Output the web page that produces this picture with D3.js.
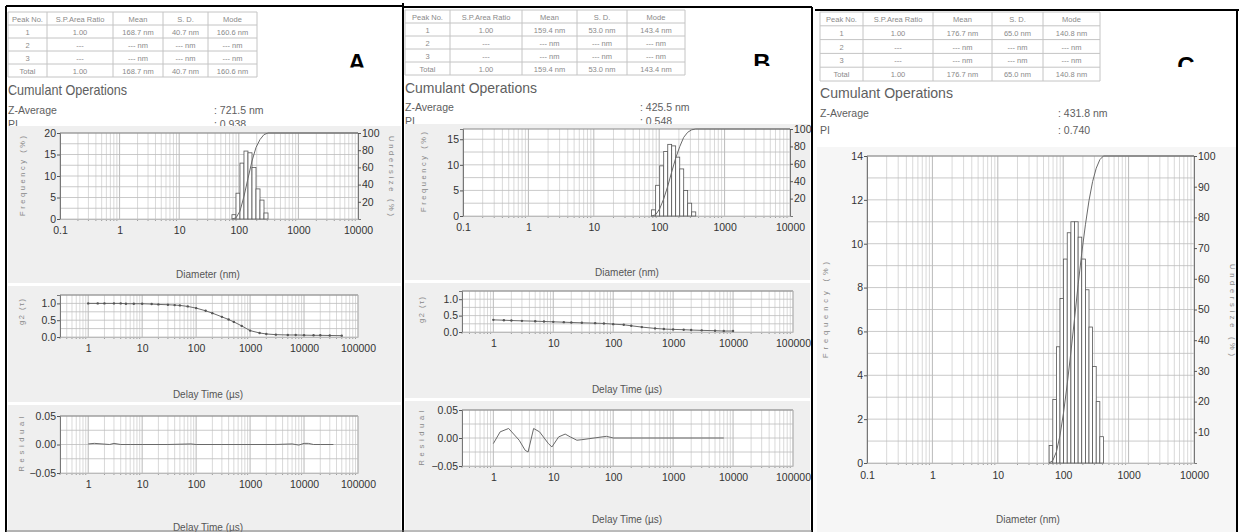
<!DOCTYPE html>
<html><head><meta charset="utf-8">
<script src="https://cdn.jsdelivr.net/npm/d3@7"></script>
<style>
body{margin:0;background:#fff;}
svg{display:block;font-family:"Liberation Sans",Arial,sans-serif;}
</style></head><body>
<svg id="fig" width="1239" height="532"></svg>
<script>
// ---------- report data ----------
const tableHeader = ["Peak No.", "S.P.Area Ratio", "Mean", "S. D.", "Mode"];
const peakRowsA = [["1","1.00","168.7 nm","40.7 nm","160.6 nm"],["2","---","--- nm","--- nm","--- nm"],["3","---","--- nm","--- nm","--- nm"],["Total","1.00","168.7 nm","40.7 nm","160.6 nm"]];
const peakRowsB = [["1","1.00","159.4 nm","53.0 nm","143.4 nm"],["2","---","--- nm","--- nm","--- nm"],["3","---","--- nm","--- nm","--- nm"],["Total","1.00","159.4 nm","53.0 nm","143.4 nm"]];
const peakRowsC = [["1","1.00","176.7 nm","65.0 nm","140.8 nm"],["2","---","--- nm","--- nm","--- nm"],["3","---","--- nm","--- nm","--- nm"],["Total","1.00","176.7 nm","65.0 nm","140.8 nm"]];
const sampleLabels = ["A", "B", "C"];
const zAverage = ["721.5 nm", "425.5 nm", "431.8 nm"];
const polyIndex = ["0.938", "0.548", "0.740"];

// size distributions (diameter in nm, frequency in %)
const diameterA = [83, 97, 113, 132, 154, 180, 210, 245, 286];
const frequencyA = [1.0, 6.0, 13.0, 15.8, 15.4, 12.0, 7.0, 4.4, 1.4];
const diameterB = [82, 95, 109, 126, 145, 166, 192, 221, 254, 292, 337];
const frequencyB = [1.2, 6.0, 9.8, 12.6, 14.0, 13.7, 11.5, 9.2, 5.0, 2.5, 0.8];
const diameterC = [65, 74, 84, 95, 108, 123, 140, 159, 180, 205, 233, 264, 300, 341, 387];
const frequencyC = [0.8, 2.9, 5.3, 7.5, 9.3, 10.5, 11.0, 11.0, 10.3, 9.3, 7.9, 6.2, 4.4, 2.8, 1.2];

// correlation functions (delay time in µs)
const delayA = [1, 1.5, 2, 3, 4, 5, 7, 10, 15, 20, 30, 40, 50, 70, 100, 150, 200, 300, 400, 500, 700, 1000, 1500, 2000, 3000, 5000, 7000, 10000, 15000, 20000, 30000, 50000];
const g2A = [1.0, 1.0, 1.0, 1.0, 1.0, 0.99, 0.99, 0.99, 0.98, 0.97, 0.96, 0.95, 0.94, 0.91, 0.86, 0.78, 0.71, 0.60, 0.52, 0.45, 0.33, 0.19, 0.12, 0.09, 0.07, 0.06, 0.06, 0.055, 0.05, 0.05, 0.045, 0.04];
const delayB = [1, 1.5, 2, 3, 5, 7, 10, 15, 20, 30, 50, 70, 100, 150, 200, 300, 500, 700, 1000, 1500, 2000, 3000, 5000, 7000, 10000];
const g2B = [0.37, 0.36, 0.35, 0.34, 0.33, 0.32, 0.31, 0.30, 0.29, 0.28, 0.27, 0.26, 0.24, 0.22, 0.19, 0.15, 0.11, 0.09, 0.08, 0.07, 0.06, 0.05, 0.04, 0.03, 0.03];

// fit residuals
const residTimeA = [1, 1.3, 1.8, 2.5, 3, 4, 6, 10, 30, 80, 100, 300, 1000, 3000, 6000, 8000, 10000, 12000, 15000, 20000, 35000];
const residA = [0.001, 0.002, 0.001, 0.0, 0.002, 0.0, 0.0, 0.0, 0.0, 0.001, 0.0, 0.0, 0.0, 0.0, 0.001, -0.001, 0.002, 0.002, 0.0, 0.0, 0.0];
const residTimeB = [1, 1.3, 1.8, 2.7, 3.4, 3.8, 4.7, 5.9, 8.3, 9.5, 12.3, 15.8, 19.2, 24.8, 30, 77, 101, 300, 1000, 3000, 7000];
const residB = [-0.010, 0.011, 0.017, -0.004, -0.022, -0.025, 0.017, 0.011, -0.010, -0.016, 0.002, 0.007, 0.002, -0.004, -0.003, 0.003, 0.0, 0.0, 0.0, 0.0, 0.0];

// axis ticks
const diameterTicks = [0.1, 1, 10, 100, 1000, 10000];
const delayTicks = [1, 10, 100, 1000, 10000, 100000];
const freqTicksA = [0, 5, 10, 15, 20];
const freqTicksB = [0, 5, 10, 15];
const freqTicksC = [0, 2, 4, 6, 8, 10, 12, 14];
const undersizeTicks20 = [20, 40, 60, 80, 100];
const undersizeTicks10 = [10, 20, 30, 40, 50, 60, 70, 80, 90, 100];
const g2Ticks = [0, 0.5, 1.0];
const residTicks = [-0.05, 0, 0.05];

// ---------- drawing ----------
const svg = d3.select("#fig");
const TXT = "#5e5e5e", TICK = "#333";

function isDecade(v) { const l = Math.log10(v); return Math.abs(l - Math.round(l)) < 1e-6; }

function styleAxis(sel, size) {
  sel.select(".domain").attr("stroke", "#777").attr("stroke-width", 1);
  sel.selectAll(".tick line").attr("stroke", "#555");
  sel.selectAll("text").attr("fill", TICK).attr("font-size", size || 10.5).attr("font-family", "Liberation Sans, Arial, sans-serif");
}

function logPlot(o) {
  const g = svg.append("g");
  const x = d3.scaleLog().domain(o.xDomain).range([o.left, o.right]);
  const y = d3.scaleLinear().domain(o.yDomain).range([o.bottom, o.top]);
  g.append("rect").attr("x", o.left).attr("y", o.top).attr("width", o.right - o.left)
    .attr("height", o.bottom - o.top).attr("fill", "#fff");
  // vertical grid: every 1..9 of each decade
  g.append("g").selectAll("line").data(x.ticks()).join("line")
    .attr("x1", d => x(d)).attr("x2", d => x(d)).attr("y1", o.top).attr("y2", o.bottom)
    .attr("stroke", d => isDecade(d) ? "#a8a8a8" : "#cfcfcf").attr("stroke-width", 0.8);
  // horizontal grid
  const hg = d3.range(o.yDomain[0], o.yDomain[1] + 1e-9, o.gridStep);
  g.append("g").selectAll("line").data(hg).join("line")
    .attr("x1", o.left).attr("x2", o.right).attr("y1", d => y(d)).attr("y2", d => y(d))
    .attr("stroke", "#bdbdbd").attr("stroke-width", 0.8);
  // top edge
  g.append("line").attr("x1", o.left).attr("x2", o.right).attr("y1", o.top).attr("y2", o.top)
    .attr("stroke", "#8a8a8a").attr("stroke-width", 1.2);
  // small minor ticks under the x axis
  g.append("g").selectAll("line").data(x.ticks().filter(d => !isDecade(d))).join("line")
    .attr("x1", d => x(d)).attr("x2", d => x(d)).attr("y1", o.bottom).attr("y2", o.bottom + 2)
    .attr("stroke", "#888").attr("stroke-width", 0.8);
  // axes
  const ax = g.append("g").attr("transform", `translate(${o.left},0)`)
    .call(d3.axisLeft(y).tickValues(o.yTicks).tickFormat(o.yFormat).tickSize(3).tickPadding(1));
  styleAxis(ax, o.fs);
  const bx = g.append("g").attr("transform", `translate(0,${o.bottom})`)
    .call(d3.axisBottom(x).tickValues(o.xTicks).tickFormat(d => String(d)).tickSize(0).tickPadding(o.xPad || 8));
  styleAxis(bx, o.fs);
  bx.select(".domain").attr("stroke", "#bbb");
  if (o.rightTicks) {
    const yR = d3.scaleLinear().domain([0, 100]).range([o.bottom, o.top]);
    const rx = g.append("g").attr("transform", `translate(${o.right},0)`)
      .call(d3.axisRight(yR).tickValues(o.rightTicks).tickFormat(d => String(d)).tickSize(3).tickPadding(1));
    styleAxis(rx, o.fs);
    o.yR = yR;
  } else {
    g.append("line").attr("x1", o.right).attr("x2", o.right).attr("y1", o.top).attr("y2", o.bottom)
      .attr("stroke", "#bbb");
  }
  return { x, y, yR: o.yR, g };
}

function histogram(p, diam, freq) {
  // geometric bin edges around each bin centre
  const edges = diam.map((d, i) => {
    const nb = i < diam.length - 1 ? diam[i + 1] : d * d / diam[i - 1];
    return Math.sqrt(d * nb);
  });
  const left = diam.map((d, i) => i === 0 ? d * d / edges[0] : edges[i - 1]);
  p.g.append("g").selectAll("rect").data(freq).join("rect")
    .attr("x", (f, i) => p.x(left[i])).attr("width", (f, i) => p.x(edges[i]) - p.x(left[i]))
    .attr("y", f => p.y(f)).attr("height", f => p.y(0) - p.y(f))
    .attr("fill", "#fff").attr("stroke", "#555").attr("stroke-width", 0.8);
  // cumulative undersize curve
  const total = d3.sum(freq);
  const cum = Array.from(d3.cumsum(freq), c => c / total * 100);
  const pts = [[left[0], 0]].concat(cum.map((c, i) => [edges[i], c]));
  pts.push([p.x.domain()[1], 100]);
  p.g.append("path").attr("d", d3.line().x(d => p.x(d[0])).y(d => p.yR(d[1]))(pts))
    .attr("fill", "none").attr("stroke", "#6a6a6a").attr("stroke-width", 1);
}

function corrLine(p, t, v, dots) {
  const pts = t.map((d, i) => [d, v[i]]);
  p.g.append("path").attr("d", d3.line().x(d => p.x(d[0])).y(d => p.y(d[1]))(pts))
    .attr("fill", "none").attr("stroke", "#6a6a6a").attr("stroke-width", 1);
  if (dots) p.g.append("g").selectAll("circle").data(pts).join("circle")
    .attr("cx", d => p.x(d[0])).attr("cy", d => p.y(d[1])).attr("r", 1.2).attr("fill", "#555");
}

function table(xs, y0, y1, rows) {
  const g = svg.append("g");
  const all = [tableHeader].concat(rows);
  const rh = (y1 - y0) / all.length;
  g.append("g").selectAll("line").data(d3.range(all.length + 1)).join("line")
    .attr("x1", xs[0]).attr("x2", xs[xs.length - 1]).attr("y1", i => y0 + i * rh).attr("y2", i => y0 + i * rh)
    .attr("stroke", "#c4c4c4").attr("stroke-width", 1);
  g.append("g").selectAll("line").data(xs).join("line")
    .attr("x1", d => d).attr("x2", d => d).attr("y1", y0).attr("y2", y1)
    .attr("stroke", "#c4c4c4").attr("stroke-width", 1);
  all.forEach((r, ri) => r.forEach((c, ci) => {
    g.append("text").attr("x", (xs[ci] + xs[ci + 1]) / 2).attr("y", y0 + ri * rh + rh / 2 + 3)
      .attr("text-anchor", "middle").attr("font-size", 7.5).attr("fill", "#8a8a8a").text(c);
  }));
}

function header(o) {
  svg.append("text").attr("x", o.x).attr("y", o.cumY).attr("font-size", 15).attr("fill", TXT)
    .attr("textLength", o.cumW).attr("lengthAdjust", "spacingAndGlyphs").text("Cumulant Operations");
  svg.append("text").attr("x", o.x).attr("y", o.zY).attr("font-size", 10.5).attr("fill", TXT).text("Z-Average");
  svg.append("text").attr("x", o.valX).attr("y", o.zY).attr("font-size", 10.5).attr("fill", TXT).text(": " + o.z);
  svg.append("text").attr("x", o.x).attr("y", o.zY + o.piDy).attr("font-size", 10.5).attr("fill", TXT).text("PI");
  svg.append("text").attr("x", o.valX).attr("y", o.zY + o.piDy).attr("font-size", 10.5).attr("fill", TXT).text(": " + o.pi);
}

function bigLetter(txt, cx, base, clipY, id) {
  const cp = svg.append("clipPath").attr("id", id);
  cp.append("rect").attr("x", cx - 30).attr("y", 0).attr("width", 60).attr("height", clipY);
  svg.append("text").attr("x", cx).attr("y", base).attr("text-anchor", "middle")
    .attr("font-size", 24).attr("font-weight", "bold").attr("fill", "#000")
    .attr("clip-path", `url(#${id})`).text(txt);
}

function vLabel(txt, x, cy, len, rot) {
  svg.append("text").attr("transform", `translate(${x},${cy}) rotate(${rot})`)
    .attr("text-anchor", "middle").attr("dy", "0.35em").attr("font-size", 7.5).attr("fill", "#888")
    .attr("textLength", len).attr("lengthAdjust", "spacing").text(txt);
}

function xTitle(txt, x, y) {
  svg.append("text").attr("x", x).attr("y", y).attr("text-anchor", "middle").attr("font-size", 10)
    .attr("fill", "#555").text(txt);
}

function frame(x0, y0, x1, y1, fill) {
  svg.append("rect").attr("x", x0).attr("y", y0).attr("width", x1 - x0).attr("height", y1 - y0).attr("fill", fill);
}

// ---- report headers ----
table([8, 47, 113, 163, 208, 257], 12, 77, peakRowsA);
table([405, 450, 522, 577, 627, 685], 10, 75, peakRowsB);
table([820, 863, 933, 992, 1043, 1100], 12, 81, peakRowsC);
header({ x: 8, cumY: 95, cumW: 119, zY: 114, valX: 214, z: zAverage[0], pi: polyIndex[0], piDy: 14 });
header({ x: 405, cumY: 93, cumW: 132, zY: 111, valX: 640, z: zAverage[1], pi: polyIndex[1], piDy: 14 });
header({ x: 820, cumY: 98, cumW: 133, zY: 117, valX: 1058, z: zAverage[2], pi: polyIndex[2], piDy: 17 });
bigLetter(sampleLabels[0], 357, 71, 67.5, "clipA");
bigLetter(sampleLabels[1], 762, 71, 66, "clipB");
bigLetter(sampleLabels[2], 1186, 74, 67, "clipC");

// ---- panel backgrounds ----
frame(8, 126, 401, 283, "#efefef");
frame(8, 286, 401, 402, "#efefef");
frame(8, 405, 401, 532, "#efefef");
frame(405, 124, 810, 280, "#efefef");
frame(405, 283, 810, 398, "#efefef");
frame(405, 401, 810, 530, "#efefef");
frame(817, 147, 1236, 532, "#f6f6f6");

// ---- sample A ----
const sizeA = logPlot({ left: 60, right: 358, top: 133, bottom: 219, xDomain: [0.1, 10000], yDomain: [0, 20],
  yTicks: freqTicksA, gridStep: 2.5, xTicks: diameterTicks, rightTicks: undersizeTicks20, yFormat: d => String(d) });
histogram(sizeA, diameterA, frequencyA);
const corrA = logPlot({ left: 60, right: 358, top: 295, bottom: 337, xDomain: [0.3, 100000], yDomain: [0, 1.25],
  yTicks: g2Ticks, gridStep: 0.25, xTicks: delayTicks, yFormat: d3.format(".1f") });
corrLine(corrA, delayA, g2A, true);
const resA = logPlot({ left: 60, right: 358, top: 416, bottom: 473, xDomain: [0.3, 100000], yDomain: [-0.05, 0.05],
  yTicks: residTicks, gridStep: 0.025, xTicks: delayTicks, yFormat: d3.format(".2f") });
corrLine(resA, residTimeA, residA, false);
xTitle("Diameter (nm)", 208, 278);
xTitle("Delay Time (µs)", 208, 398);
xTitle("Delay Time (µs)", 208, 531);
vLabel("Frequency (%)", 22, 176, 80, -90);
vLabel("Undersize (%)", 392, 176, 80, 90);
vLabel("g2 (τ)", 21, 312, 26, -90);
vLabel("Residual", 21, 444, 55, -90);

// ---- sample B ----
const sizeB = logPlot({ left: 463, right: 790, top: 129, bottom: 216, xDomain: [0.1, 10000], yDomain: [0, 17],
  yTicks: freqTicksB, gridStep: 2.5, xTicks: diameterTicks, rightTicks: undersizeTicks20, yFormat: d => String(d) });
histogram(sizeB, diameterB, frequencyB);
const corrB = logPlot({ left: 462, right: 793, top: 291, bottom: 332, xDomain: [0.3, 100000], yDomain: [0, 1.25],
  yTicks: g2Ticks, gridStep: 0.25, xTicks: delayTicks, yFormat: d3.format(".1f") });
corrLine(corrB, delayB, g2B, true);
const resB = logPlot({ left: 462, right: 793, top: 410, bottom: 466, xDomain: [0.3, 100000], yDomain: [-0.05, 0.05],
  yTicks: residTicks, gridStep: 0.025, xTicks: delayTicks, yFormat: d3.format(".2f") });
corrLine(resB, residTimeB, residB, false);
xTitle("Diameter (nm)", 627, 276);
xTitle("Delay Time (µs)", 627, 393);
xTitle("Delay Time (µs)", 627, 523);
vLabel("Frequency (%)", 423, 172, 80, -90);
vLabel("g2 (τ)", 421, 310, 26, -90);
vLabel("Residual", 421, 438, 55, -90);

// ---- sample C ----
const sizeC = logPlot({ left: 867, right: 1194, top: 156, bottom: 463, xDomain: [0.1, 10000], yDomain: [0, 14],
  yTicks: freqTicksC, gridStep: 1, xTicks: diameterTicks, rightTicks: undersizeTicks10, yFormat: d => String(d), xPad: 9 });
histogram(sizeC, diameterC, frequencyC);
xTitle("Diameter (nm)", 1028, 523);
vLabel("Frequency (%)", 825, 310, 96, -90);
vLabel("Undersize (%)", 1233, 310, 92, 90);

// ---- report borders ----
const border = (x1, y1, x2, y2, c, w) => svg.append("line").attr("x1", x1).attr("y1", y1).attr("x2", x2).attr("y2", y2)
  .attr("stroke", c).attr("stroke-width", w);
border(6, 6, 403, 6, "#000", 2);
border(6, 6, 6, 532, "#000", 2);
border(403, 3, 403, 532, "#000", 2);
border(403, 7, 812, 7, "#000", 2);
border(812, 7, 812, 532, "#000", 2);
border(815, 10, 1239, 10, "#000", 2);
border(1237, 10, 1237, 532, "#000", 2);
border(6, 531, 812, 531, "#777", 1);
</script>
</body></html>
